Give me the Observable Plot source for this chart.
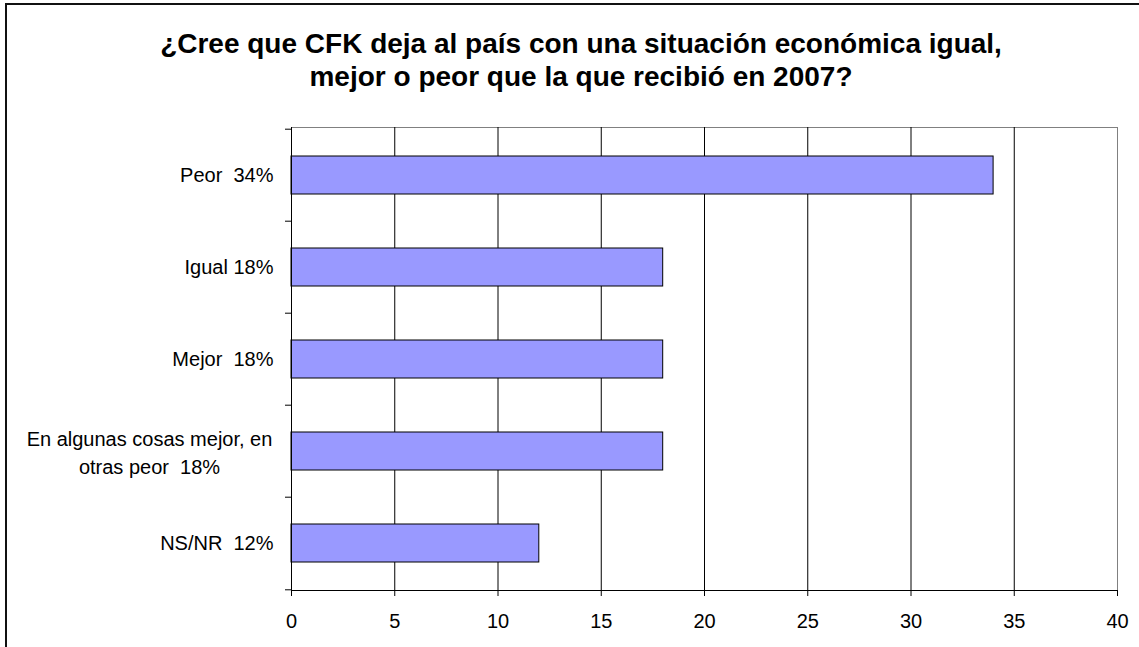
<!DOCTYPE html>
<html>
<head>
<meta charset="utf-8">
<script src="https://cdn.jsdelivr.net/npm/d3@7"></script>
<script src="https://cdn.jsdelivr.net/npm/@observablehq/plot@0.6"></script>
<style>
  html, body { margin: 0; padding: 0; background: #fff; }
  #wrap { position: relative; width: 1139px; height: 647px; overflow: hidden; font-family: "Liberation Sans", Arial, sans-serif; }
  #border { position: absolute; left: 5px; top: 3px; width: 1300px; height: 800px; border-left: 2px solid #111; border-top: 2px solid #111; pointer-events: none; z-index: 10; }
  #title { box-sizing: border-box; width: 1139px; height: 110px; padding-left: 23px; padding-top: 27px; text-align: center; font-weight: bold; font-size: 28px; line-height: 33px; color: #000; }
  svg text { white-space: pre; }
</style>
</head>
<body>
<div id="wrap">
  <div id="title">¿Cree que CFK deja al país con una situación económica igual,<br>mejor o peor que la que recibió en 2007?</div>
  <div id="chart"></div>
  <div id="border"></div>
</div>
<script>
const categories = ["Peor  34%", "Igual 18%", "Mejor  18%", "En algunas cosas mejor, en\notras peor  18%", "NS/NR  12%"];
const values = [34, 18, 18, 18, 12];
const xTicks = [0, 5, 10, 15, 20, 25, 30, 35, 40];
const gridTicks = [5, 10, 15, 20, 25, 30, 35];

const data = categories.map((label, i) => ({label, value: values[i]}));

const W = 1139, H = 537, mT = 17, mB = 57, mL = 291, mR = 22;
const step = (H - mT - mB) / categories.length;

const single = data.filter(d => !d.label.includes("\n"));
const multi = data.filter(d => d.label.includes("\n"));

const chart = Plot.plot({
  width: W,
  height: H,
  marginTop: mT,
  marginBottom: mB,
  marginLeft: mL,
  marginRight: mR,
  style: {fontFamily: "'Liberation Sans', Arial, sans-serif", fontSize: "20px", color: "#000", background: "#fff", overflow: "visible"},
  x: {domain: [0, 40], label: null},
  y: {domain: categories, paddingInner: 0.59, paddingOuter: 0.295, axis: null, label: null},
  marks: [
    Plot.frame({anchor: "top", stroke: "#808080"}),
    Plot.frame({anchor: "right", stroke: "#808080"}),
    Plot.ruleX(gridTicks, {stroke: "#000", strokeOpacity: 1}),
    Plot.barX(data, {x: "value", y: "label", fill: "#9999ff", stroke: "#000", strokeWidth: 1}),
    Plot.frame({anchor: "left", stroke: "#000"}),
    Plot.frame({anchor: "bottom", stroke: "#000"}),
    Plot.axisX({ticks: xTicks, tickSize: 6, tickPadding: 17, tickFormat: d => String(d), label: null, stroke: "#000", strokeOpacity: 1, fill: "#000"}),
    Plot.axisY({ticks: categories, tickSize: 6, tickFormat: () => "", label: null, dy: -step / 2, stroke: "#000", strokeOpacity: 1}),
    Plot.axisY({ticks: [categories[categories.length - 1]], tickSize: 6, tickFormat: () => "", label: null, dy: step / 2, stroke: "#000", strokeOpacity: 1}),
    Plot.text(single, {y: "label", text: "label", frameAnchor: "left", textAnchor: "end", dx: -18, fill: "#000"}),
    Plot.text(multi, {y: "label", text: "label", frameAnchor: "left", textAnchor: "middle", dx: -142, lineHeight: 1.4, fill: "#000"})
  ]
});
document.getElementById("chart").appendChild(chart);
</script>
</body>
</html>
